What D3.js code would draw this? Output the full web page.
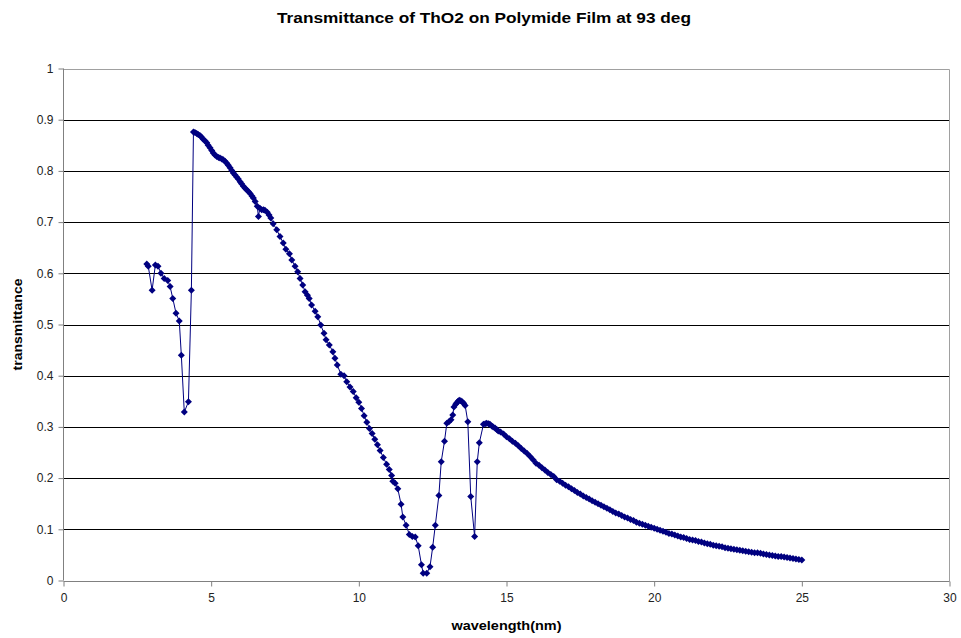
<!DOCTYPE html>
<html>
<head>
<meta charset="utf-8">
<script src="https://cdn.jsdelivr.net/npm/d3@7"></script>
<style>
  html, body { margin: 0; padding: 0; background: #fff; }
  svg { display: block; font-family: "Liberation Sans", Arial, sans-serif; }
</style>
</head>
<body>
<svg id="chart" width="961" height="638"></svg>
<script>
// ---- data ----
const title = "Transmittance of ThO2 on Polymide Film at 93 deg";
const xLabel = "wavelength(nm)";
const yLabel = "transmittance";
const xTicks = [0, 5, 10, 15, 20, 25, 30];
const yTicks = [0, 0.1, 0.2, 0.3, 0.4, 0.5, 0.6, 0.7, 0.8, 0.9, 1];

const wavelength = [
  2.82, 2.87, 3.00, 3.11, 3.20, 3.30, 3.41, 3.53, 3.61, 3.70, 3.81, 3.92, 3.99, 4.09, 4.23, 4.33,
  4.40, 4.45, 4.51, 4.56, 4.62, 4.67, 4.73, 4.79, 4.85, 4.90, 4.96, 5.02, 5.07, 5.13, 5.19, 5.25,
  5.30, 5.36, 5.41, 5.47, 5.53, 5.58, 5.64, 5.70, 5.75, 5.81, 5.86, 5.92, 5.98, 6.03, 6.09, 6.15,
  6.20, 6.26, 6.32, 6.38, 6.43, 6.49, 6.56, 6.60, 6.65, 6.71, 6.77, 6.82, 6.90, 6.96, 7.02,
  7.10, 7.22, 7.33, 7.44, 7.53, 7.65, 7.73, 7.84, 7.93, 8.01, 8.10, 8.18, 8.26, 8.32, 8.40, 8.52,
  8.61, 8.71, 8.82, 8.89, 9.00, 9.12, 9.19, 9.27, 9.39, 9.50, 9.59, 9.70, 9.81, 9.91, 10.00, 10.09,
  10.18, 10.27, 10.36, 10.45, 10.54, 10.63, 10.72, 10.83, 10.94, 11.03, 11.11, 11.15, 11.23, 11.32,
  11.43, 11.49, 11.60, 11.71, 11.81, 11.91, 12.01, 12.12, 12.18, 12.30, 12.41, 12.50, 12.59, 12.71,
  12.79, 12.90, 12.98, 13.05, 13.12, 13.18, 13.22, 13.28, 13.32, 13.36, 13.40, 13.45, 13.50, 13.55,
  13.60, 13.69, 13.79, 13.92, 14.01, 14.08, 14.22, 14.28, 14.33, 14.39, 14.44, 14.50, 14.55, 14.61,
  14.67, 14.72,
  14.8, 14.9, 15.0, 15.1, 15.2, 15.3, 15.4, 15.5, 15.6, 15.7, 15.8, 15.9, 16.0, 16.1, 16.2, 16.3,
  16.4, 16.5, 16.6, 16.7, 16.8, 16.9, 17.0, 17.1, 17.2, 17.3, 17.4, 17.5, 17.6, 17.7, 17.8, 17.9,
  18.0, 18.1, 18.2, 18.3, 18.4, 18.5, 18.6, 18.7, 18.8, 18.9, 19.0, 19.1, 19.2, 19.3, 19.4, 19.5,
  19.6, 19.7, 19.8, 19.9, 20.0, 20.1, 20.2, 20.3, 20.4, 20.5, 20.6, 20.7, 20.8, 20.9, 21.0, 21.1,
  21.2, 21.3, 21.4, 21.5, 21.6, 21.7, 21.8, 21.9, 22.0, 22.1, 22.2, 22.3, 22.4, 22.5, 22.6, 22.7,
  22.8, 22.9, 23.0, 23.1, 23.2, 23.3, 23.4, 23.5, 23.6, 23.7, 23.8, 23.9, 24.0, 24.1, 24.2, 24.3,
  24.4, 24.5, 24.6, 24.7, 24.8, 24.9, 25.0
];
const transmittance = [
  0.618, 0.614, 0.567, 0.616, 0.614, 0.600, 0.590, 0.586, 0.574, 0.551, 0.522, 0.507, 0.440, 0.329, 0.349, 0.567,
  0.876, 0.875, 0.873, 0.871, 0.869, 0.866, 0.862, 0.859, 0.855, 0.850, 0.845, 0.840, 0.835, 0.831, 0.828, 0.826,
  0.825, 0.823, 0.822, 0.819, 0.815, 0.811, 0.806, 0.801, 0.796, 0.792, 0.788, 0.784, 0.779, 0.775, 0.770, 0.766,
  0.763, 0.760, 0.756, 0.751, 0.747, 0.740, 0.731, 0.711, 0.727, 0.724, 0.724, 0.723, 0.719, 0.714, 0.708,
  0.697, 0.685, 0.672, 0.659, 0.647, 0.638, 0.626, 0.614, 0.603, 0.590, 0.577, 0.564, 0.557, 0.551, 0.538, 0.526,
  0.515, 0.499, 0.483, 0.470, 0.460, 0.447, 0.434, 0.421, 0.403, 0.400, 0.388, 0.378, 0.369, 0.357, 0.348, 0.336,
  0.322, 0.309, 0.297, 0.287, 0.276, 0.265, 0.254, 0.240, 0.227, 0.217, 0.205, 0.194, 0.190, 0.179,
  0.149, 0.124, 0.108, 0.090, 0.086, 0.085, 0.068, 0.031, 0.014, 0.014, 0.027, 0.065, 0.108, 0.166,
  0.232, 0.272, 0.307, 0.310, 0.314, 0.323, 0.339, 0.344, 0.347, 0.350, 0.352, 0.351, 0.349, 0.346,
  0.342, 0.310, 0.164, 0.086, 0.232, 0.269, 0.305, 0.306, 0.307, 0.306, 0.305, 0.302, 0.300, 0.298,
  0.295, 0.292,
  0.290, 0.286, 0.281, 0.277, 0.272, 0.268, 0.263, 0.258, 0.253, 0.248, 0.242, 0.236, 0.229, 0.225, 0.220, 0.216,
  0.211, 0.207, 0.203, 0.197, 0.194, 0.190, 0.186, 0.183, 0.179, 0.176, 0.172, 0.169, 0.165, 0.162, 0.159, 0.156,
  0.153, 0.150, 0.147, 0.144, 0.141, 0.138, 0.135, 0.132, 0.130, 0.127, 0.124, 0.122, 0.119, 0.117, 0.114, 0.112,
  0.110, 0.108, 0.106, 0.104, 0.102, 0.100, 0.098, 0.096, 0.094, 0.092, 0.091, 0.089, 0.087, 0.085, 0.084, 0.082,
  0.080, 0.079, 0.078, 0.076, 0.075, 0.073, 0.072, 0.071, 0.069, 0.068, 0.067, 0.066, 0.064, 0.063, 0.062, 0.061,
  0.060, 0.059, 0.058, 0.057, 0.056, 0.055, 0.054, 0.054, 0.053, 0.052, 0.051, 0.050, 0.049, 0.048, 0.047, 0.047,
  0.046, 0.045, 0.044, 0.043, 0.042, 0.041, 0.040
];

// ---- chart ----
const svg = d3.select("#chart");
const margin = { left: 63.5, right: 961 - 949.5, top: 68.5, bottom: 638 - 580.5 };
const W = 961, H = 638;

const x = d3.scaleLinear().domain([0, 30]).range([margin.left, W - margin.right]);
const y = d3.scaleLinear().domain([0, 1]).range([H - margin.bottom, margin.top]);

const data = wavelength.map((w, i) => ({ w, t: transmittance[i] }));

// gridlines (0.1 .. 0.9)
svg.append("g")
  .selectAll("line")
  .data(yTicks.filter(v => v > 0 && v < 1))
  .join("line")
  .attr("x1", x(0)).attr("x2", x(30))
  .attr("y1", d => Math.round(y(d)) + 0.5).attr("y2", d => Math.round(y(d)) + 0.5)
  .attr("stroke", "#000").attr("stroke-width", 1);

// plot-area border top/right (gray)
svg.append("path")
  .attr("d", `M${x(0)},${Math.round(y(1)) + 0.5}H${x(30)}V${Math.round(y(0)) + 0.5}`)
  .attr("fill", "none").attr("stroke", "#a0a0a0").attr("stroke-width", 1);

// axes
const fmtY = d => d === 0 ? "0" : d === 1 ? "1" : d3.format(".1f")(d);
const yAxis = d3.axisLeft(y).tickValues(yTicks).tickFormat(fmtY).tickSize(5).tickPadding(5);
const xAxis = d3.axisBottom(x).tickValues(xTicks).tickFormat(d3.format("d")).tickSize(5).tickPadding(7);

const gy = svg.append("g").attr("transform", `translate(${x(0)},0)`).call(yAxis);
const gx = svg.append("g").attr("transform", `translate(0,${Math.round(y(0)) + 0.5})`).call(xAxis);

[gx, gy].forEach(g => {
  g.select(".domain").attr("stroke", "#808080").attr("stroke-width", 1);
  g.selectAll(".tick line").attr("stroke", "#808080");
  g.selectAll(".tick text")
    .attr("fill", "#222")
    .style("font-family", '"Liberation Sans", Arial, sans-serif')
    .style("font-size", "12px");
});
gx.select(".domain").attr("d", `M${x(0)},0H${x(30)}`);
gy.select(".domain").attr("d", `M0,${y(1)}V${y(0)}`);

// line
const line = d3.line().x(d => x(d.w)).y(d => y(d.t));
svg.append("path")
  .datum(data)
  .attr("d", line)
  .attr("fill", "none")
  .attr("stroke", "#000080")
  .attr("stroke-width", 1);

// diamond markers
const r = 3.5;
svg.append("g")
  .selectAll("path")
  .data(data)
  .join("path")
  .attr("transform", d => `translate(${x(d.w)},${y(d.t)})`)
  .attr("d", `M0,${-r}L${r},0L0,${r}L${-r},0Z`)
  .attr("fill", "#000080");

// titles
svg.append("text")
  .attr("x", 484).attr("y", 23)
  .attr("text-anchor", "middle")
  .attr("textLength", 414).attr("lengthAdjust", "spacingAndGlyphs")
  .style("font-weight", "bold").style("font-size", "14px")
  .attr("fill", "#000")
  .text(title);

svg.append("text")
  .attr("x", (x(0) + x(30)) / 2).attr("y", 630)
  .attr("text-anchor", "middle")
  .attr("textLength", 110).attr("lengthAdjust", "spacingAndGlyphs")
  .style("font-weight", "bold").style("font-size", "12px")
  .attr("fill", "#000")
  .text(xLabel);

svg.append("text")
  .attr("transform", `translate(22,${(y(0) + y(1)) / 2}) rotate(-90)`)
  .attr("text-anchor", "middle")
  .attr("textLength", 92).attr("lengthAdjust", "spacingAndGlyphs")
  .style("font-weight", "bold").style("font-size", "12px")
  .attr("fill", "#000")
  .text(yLabel);
</script>
</body>
</html>
